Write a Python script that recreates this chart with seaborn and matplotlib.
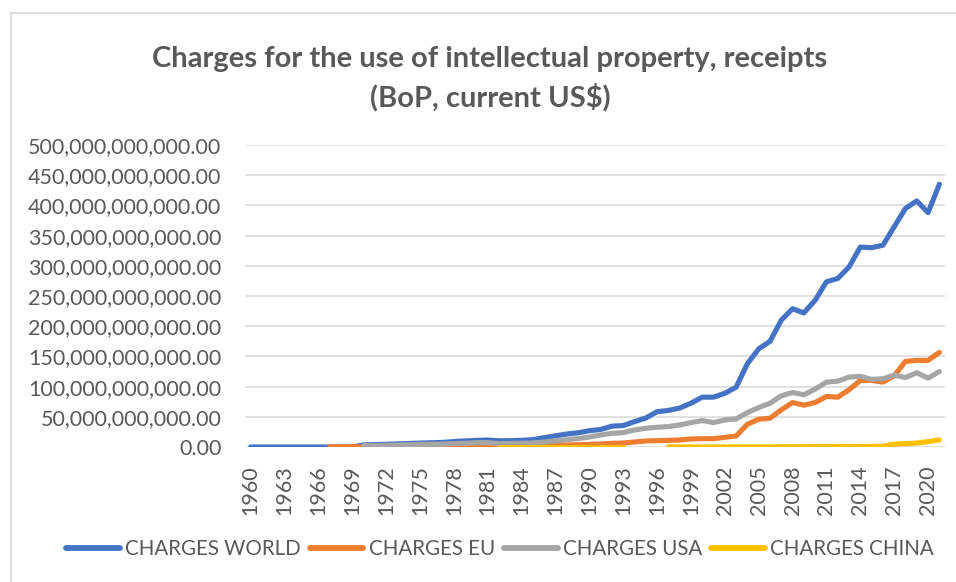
import numpy as np
import pandas as pd
import matplotlib
matplotlib.use("Agg")
import matplotlib.pyplot as plt
import seaborn as sns
from matplotlib.lines import Line2D
from matplotlib.ticker import FuncFormatter

# ---------------- data (billions of current US$) ----------------
years = list(range(1960, 2022))

world = [0, 0, 0, 0, 0, 0, 0, 0, 0, 0,
         3.5, 4.0, 4.5, 5.2, 5.8, 6.5, 7.0, 7.6, 9.0, 10.0,
         11.0, 11.5, 10.3, 10.5, 11.0, 12.2, 15.5, 18.5, 21.5, 23.5,
         27.0, 29.0, 34.5, 35.5, 42.0, 48.0, 58.5, 60.5, 64.5, 72.5,
         82.5, 82.5, 89.0, 99.0, 138.0, 162.5, 175.0, 210.0, 229.0, 222.0,
         243.0, 273.5, 279.0, 298.0, 331.0, 330.0, 334.0, 364.5, 395.0, 407.5,
         388.0, 435.0]

eu = [None, None, None, None, None, None, None, 0.3, 0.35, 0.4,
      0.5, 0.55, 0.6, 0.7, 0.8, 0.9, 0.95, 1.0, 1.1, 1.2,
      1.3, 1.3, 1.3, 1.4, 1.5, 1.7, 2.2, 2.8, 3.3, 3.8,
      4.4, 5.0, 6.1, 6.6, 8.3, 10.0, 10.5, 11.0, 11.6, 13.3,
      13.8, 13.8, 16.0, 18.3, 37.6, 46.0, 47.6, 61.5, 73.6, 69.2,
      73.6, 83.6, 82.5, 94.7, 110.2, 110.2, 107.4, 118.0, 141.7, 143.4,
      143.4, 156.7]

usa = [None, None, None, None, None, None, None, None, None, None,
       2.3, 2.5, 2.8, 3.2, 3.8, 4.3, 4.4, 4.7, 5.6, 6.1,
       7.1, 7.3, 5.6, 5.8, 6.2, 6.7, 8.1, 10.2, 12.1, 13.8,
       16.6, 19.9, 22.7, 23.8, 28.2, 31.0, 32.7, 33.8, 36.5, 40.4,
       43.7, 40.4, 44.8, 46.5, 57.0, 65.3, 72.5, 84.7, 90.2, 86.4,
       95.8, 107.4, 109.0, 115.7, 117.0, 112.0, 113.0, 119.0, 115.0, 123.0,
       114.0, 125.0]

china = [None, None, None, None, None, None, None, None, None, None,
         None, None, None, None, None, None, None, None, None, None,
         None, None, 0.0, 0.0, 0.0, 0.0, 0.0, 0.0, 0.0, 0.0,
         0.0, 0.0, 0.0, 0.0, None, None, None, 0.06, 0.06, 0.08,
         0.08, 0.11, 0.13, 0.11, 0.24, 0.16, 0.2, 0.34, 0.57, 0.43,
         0.83, 0.74, 1.04, 0.89, 0.68, 1.09, 1.16, 4.8, 5.6, 6.6,
         8.9, 11.7]

series_names = ["CHARGES WORLD", "CHARGES EU", "CHARGES USA", "CHARGES CHINA"]
series_values = [world, eu, usa, china]
colors = ["#4472C4", "#ED7D31", "#A5A5A5", "#FFC000"]
xtick_years = list(range(1960, 2021, 3))
yticks = list(range(0, 500_000_000_001, 50_000_000_000))

# ---------------- long table with gap-aware segments ----------------
frames = []
for name, vals in zip(series_names, series_values):
    s = pd.Series([np.nan if v is None else v for v in vals], dtype=float)
    seg = s.isna().cumsum()
    d = pd.DataFrame({"year": years, "value": s * 1e9, "series": name,
                      "segment": seg.astype(str)})
    frames.append(d.dropna(subset=["value"]))
df = pd.concat(frames, ignore_index=True)

# ---------------- styling ----------------
sns.set_theme(style="white")
plt.rcParams["font.family"] = ["Lato", "DejaVu Sans"]
text_color = "#595959"

fig = plt.figure(figsize=(9.56, 5.82), dpi=100)
ax = fig.add_axes([245 / 956, 1 - 447 / 582, 700 / 956, 302 / 582])

sns.lineplot(data=df, x="year", y="value", hue="series", units="segment",
             estimator=None, hue_order=series_names, palette=colors,
             linewidth=3.7, solid_capstyle="round", solid_joinstyle="round",
             ax=ax, legend=True, sort=True)

ax.set_xlim(1959.5, 2021.5)
ax.set_ylim(0, 500e9)
ax.set_yticks(yticks)
ax.yaxis.set_major_formatter(FuncFormatter(lambda v, p: f"{v:,.2f}"))
ax.set_xticks(xtick_years)
ax.set_xticklabels([str(y) for y in xtick_years], rotation=90)
ax.grid(axis="y", color="#D9D9D9", linewidth=1.1)
ax.set_axisbelow(True)
for sp in ax.spines.values():
    sp.set_visible(False)
ax.tick_params(axis="both", length=0, labelsize=15.5, labelcolor=text_color)
ax.tick_params(axis="y", pad=17)
ax.tick_params(axis="x", pad=13)
ax.set_xlabel("")
ax.set_ylabel("")

handles, labels = ax.get_legend_handles_labels()
ax.get_legend().remove()
leg = fig.legend(handles, labels, loc="center", ncol=4,
                 bbox_to_anchor=(500 / 956, 1 - 549 / 582), frameon=False,
                 fontsize=14.8, handlelength=2.6, handletextpad=0.25,
                 columnspacing=0.45, labelcolor=text_color)
for h in leg.legend_handles:
    h.set_linewidth(4.2)
    h.set_solid_capstyle("round")

fig.text(490 / 956, 1 - 67 / 582,
         "Charges for the use of intellectual property, receipts",
         ha="center", va="baseline", fontsize=21, fontweight="bold",
         color=text_color)
fig.text(490 / 956, 1 - 106 / 582, "(BoP, current US$)",
         ha="center", va="baseline", fontsize=21, fontweight="bold",
         color=text_color)

# chart-area border (top and left visible)
fig.add_artist(Line2D([11 / 956, 11 / 956], [0, 1 - 13 / 582],
                      color="#D9D9D9", linewidth=1.2))
fig.add_artist(Line2D([11 / 956, 1], [1 - 13 / 582, 1 - 13 / 582],
                      color="#D9D9D9", linewidth=1.2))

fig.savefig("out.png", dpi=100)
